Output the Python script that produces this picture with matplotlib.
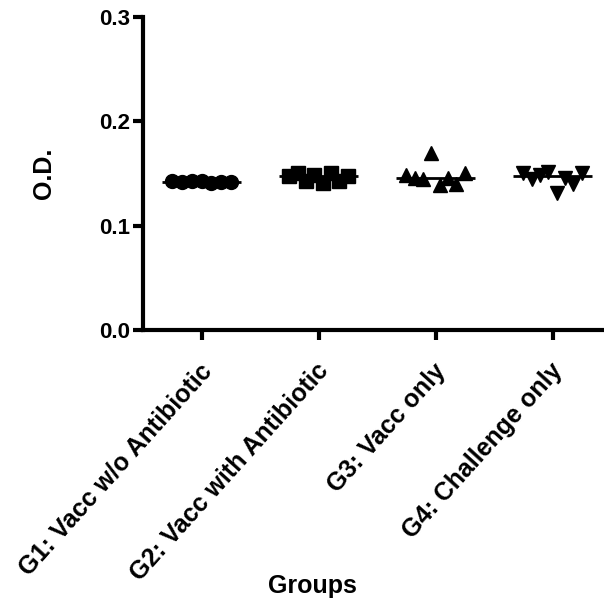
import matplotlib
matplotlib.use("Agg")
import matplotlib.pyplot as plt
import matplotlib.transforms as mtransforms
import numpy as np

plt.rcParams['font.family'] = ['Liberation Sans', 'DejaVu Sans']
plt.rcParams['font.weight'] = 'bold'

groups = ["G1: Vacc w/o Antibiotic", "G2: Vacc with Antibiotic", "G3: Vacc only", "G4: Challenge only"]
g1 = [0.143, 0.142, 0.143, 0.143, 0.141, 0.142, 0.142]
g2 = [0.148, 0.150, 0.143, 0.149, 0.141, 0.150, 0.143, 0.148]
g3 = [0.149, 0.146, 0.145, 0.170, 0.139, 0.146, 0.140, 0.150]
g4 = [0.150, 0.145, 0.149, 0.151, 0.131, 0.146, 0.140, 0.150]
series = [g1, g2, g3, g4]
markers = ['o', 's', '^', 'v']
yticks = [0.0, 0.1, 0.2, 0.3]

fig = plt.figure(figsize=(6.04, 6.02), dpi=100)
ax = fig.add_axes([143/604, (602-330)/602, (604-143)/604, (330-17)/602])

for i, (vals, m) in enumerate(zip(series, markers)):
    n = len(vals)
    offs = np.linspace(-0.25, 0.25, n)
    ax.plot(i + offs, vals, linestyle='none', marker=m, color='black', markersize=10)
    med = np.median(vals)
    ax.hlines(med, i - 0.34, i + 0.34, color='black', linewidth=2, zorder=3)

ax.set_xlim(-0.5, 3.44)
ax.set_ylim(0, 0.3)
ax.set_yticks(yticks)
ax.set_yticklabels([f"{t:.1f}" for t in yticks], fontsize=16, fontweight='bold')
ax.set_xticks(range(len(groups)))
ax.set_xticklabels(groups, rotation=48, ha='right', rotation_mode='anchor', fontsize=18, fontweight='bold')
for s in ['top', 'right']:
    ax.spines[s].set_visible(False)
for s in ['left', 'bottom']:
    ax.spines[s].set_linewidth(3)
ax.tick_params(axis='both', width=3, length=7, pad=2)
ax.tick_params(axis='x', pad=14)
offset = mtransforms.ScaledTranslation(-3/100, 0, fig.dpi_scale_trans)
for lab in ax.get_xticklabels():
    lab.set_transform(lab.get_transform() + offset)
ax.set_ylabel("O.D.", fontsize=18, fontweight='bold')
ax.yaxis.set_label_coords(-(143-56)/461, 0.5)
ax.set_xlabel("Groups", fontsize=18, fontweight='bold')
ax.xaxis.set_label_coords((312-143)/461, -(574-330)/313)

fig.savefig("out.png", dpi=100)
